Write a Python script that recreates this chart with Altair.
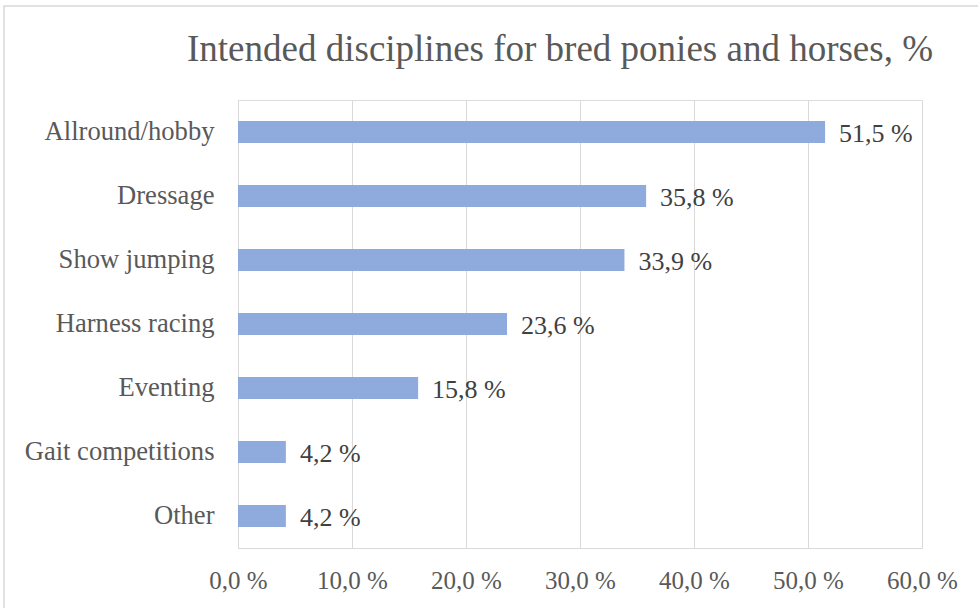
import altair as alt
import pandas as pd

categories = ["Allround/hobby", "Dressage", "Show jumping", "Harness racing",
              "Eventing", "Gait competitions", "Other"]
values = [51.5, 35.8, 33.9, 23.6, 15.8, 4.2, 4.2]
x_ticks = [0, 10, 20, 30, 40, 50, 60]
title_text = "Intended disciplines for bred ponies and horses, %"

df = pd.DataFrame({"category": categories, "value": values})

FONT = "Liberation Serif"
TXT = "#595959"
GRID = "#d9d9d9"

x_enc = alt.X("value:Q",
              scale=alt.Scale(domain=[0, 60], nice=False, zero=True),
              axis=alt.Axis(values=x_ticks, title=None, ticks=False,
                            labelExpr="replace(format(datum.value, '.1f'), '.', ',') + ' %'",
                            labelFont=FONT, labelFontSize=25, labelColor=TXT,
                            labelPadding=20, grid=True, gridColor=GRID,
                            domain=True, domainColor=GRID, labelFlush=False))
y_enc = alt.Y("category:N", sort=categories,
              scale=alt.Scale(paddingInner=0.66, paddingOuter=0.33),
              axis=alt.Axis(title=None, ticks=False, domain=False,
                            labelFont=FONT, labelFontSize=26.6, labelColor=TXT,
                            labelPadding=24, labelLimit=400))

base = alt.Chart(df)

bars = base.mark_bar(color="#8faadc").encode(x=x_enc, y=y_enc)

labels = base.transform_calculate(
    lbl="replace(format(datum.value, '.1f'), '.', ',') + ' %'"
).mark_text(align="left", baseline="middle", dx=14, dy=2, font=FONT,
            fontSize=26, color="#404040").encode(
    x="value:Q", y=alt.Y("category:N", sort=categories), text="lbl:N")

title_mark = alt.Chart(pd.DataFrame({"t": [title_text]})).mark_text(
    font=FONT, fontSize=37, color=TXT, align="center", baseline="alphabetic"
).encode(x=alt.value(322), y=alt.value(-39), text="t:N")

border = alt.Chart(pd.DataFrame({"a": [0]})).mark_rect(
    fill=None, stroke=GRID, strokeWidth=1.5).encode(
    x=alt.value(-234), x2=alt.value(760), y=alt.value(-94), y2=alt.value(530))

chart = alt.layer(border, bars, labels, title_mark).properties(
    width=684, height=448,
    autosize=alt.AutoSizeParams(type="none"),
    padding={"left": 238, "top": 100, "right": 56, "bottom": 60},
).configure_view(stroke=GRID).configure(background="white")

chart.save("out.html", embed_options={"renderer": "svg", "actions": False})
